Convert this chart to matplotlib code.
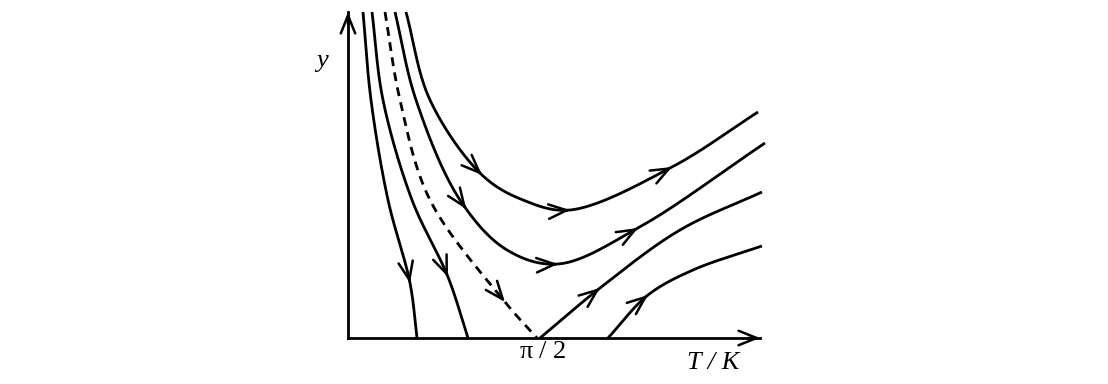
import numpy as np
import matplotlib.pyplot as plt

# trajectories (x, y), in axis units
traj_a = [(0.375, 8.15), (0.575, 5.95), (1.0, 3.45), (1.55, 1.375), (1.725, 0)]
traj_b = [(0.6, 8.15), (0.875, 5.95), (1.6, 3.45), (2.5, 1.525), (3.0, 0)]
traj_sep = [(0.925, 8.15), (1.3, 5.95), (2.05, 3.45), (3.925, 0.9), (4.725, 0)]
traj_c = [(1.175, 8.15), (1.7, 5.95), (2.8, 3.45), (3.975, 2.2), (5.25, 1.85), (7.25, 2.75),
          (10.425, 4.875)]
traj_d = [(1.45, 8.15), (2.05, 5.95), (3.35, 4.075), (4.375, 3.45), (5.55, 3.2), (8.1, 4.275),
          (10.25, 5.65)]
traj_e = [(4.8, 0), (6.3, 1.25), (8.3, 2.7), (10.35, 3.65)]
traj_f = [(6.5, 0), (7.5, 1.075), (8.625, 1.7), (10.35, 2.3)]

# arrow head positions on each trajectory
arrows_a = [(1.55, 1.375)]
arrows_b = [(2.5, 1.525)]
arrows_sep = [(3.925, 0.9)]
arrows_c = [(2.95, 3.225), (5.25, 1.85), (7.25, 2.75)]
arrows_d = [(3.35, 4.075), (5.55, 3.2), (8.1, 4.275)]
arrows_e = [(6.3, 1.25)]
arrows_f = [(7.5, 1.075)]

x_end = 10.3
y_end = 8.15
x_mark = 4.975
x_mark_label = r'$\mathregular{\pi}$ / 2'


def smooth(pts, n=60, alpha=0.5):
    # centripetal catmull-rom through the read points
    p = np.array(pts, dtype=float)
    p = np.vstack([2 * p[0] - p[1], p, 2 * p[-1] - p[-2]])
    out = []
    for i in range(1, len(p) - 2):
        p0, p1, p2, p3 = p[i - 1], p[i], p[i + 1], p[i + 2]
        t0 = 0.0
        t1 = t0 + np.linalg.norm(p1 - p0) ** alpha
        t2 = t1 + np.linalg.norm(p2 - p1) ** alpha
        t3 = t2 + np.linalg.norm(p3 - p2) ** alpha
        t = np.linspace(t1, t2, n, endpoint=False)[:, None]
        a1 = (t1 - t) / (t1 - t0) * p0 + (t - t0) / (t1 - t0) * p1
        a2 = (t2 - t) / (t2 - t1) * p1 + (t - t1) / (t2 - t1) * p2
        a3 = (t3 - t) / (t3 - t2) * p2 + (t - t2) / (t3 - t2) * p3
        b1 = (t2 - t) / (t2 - t0) * a1 + (t - t0) / (t2 - t0) * a2
        b2 = (t3 - t) / (t3 - t1) * a2 + (t - t1) / (t3 - t1) * a3
        out.append((t2 - t) / (t2 - t1) * b1 + (t - t1) / (t2 - t1) * b2)
    out.append(p[-2][None, :])
    return np.vstack(out)


def arrow(ax, tail, tip):
    ax.annotate('', xy=tip, xytext=tail,
                arrowprops=dict(arrowstyle='->,head_length=0.65,head_width=0.26',
                                mutation_scale=20, lw=1.8, color='black',
                                shrinkA=0, shrinkB=0))


def draw(ax, pts, heads, dashed=False):
    c = smooth(pts)
    line, = ax.plot(c[:, 0], c[:, 1], color='black', lw=2.0, solid_capstyle='butt')
    if dashed:
        line.set_dashes((3.2, 2.3))
    for h in heads:
        i = np.argmin(np.hypot(c[:, 0] - h[0], c[:, 1] - h[1]))
        j = max(i - 3, 0)
        arrow(ax, (c[j, 0], c[j, 1]), (c[i, 0], c[i, 1]))


fig = plt.figure(figsize=(11.08, 3.84), dpi=100)
ax = fig.add_axes([0, 0, 1, 1])
ax.set_xlim(-8.7, 19.0)
ax.set_ylim(-1.15, 8.45)
ax.axis('off')

# axes with arrow heads
ax.plot([0, x_end], [0, 0], color='black', lw=2.0)
ax.plot([0, 0], [0, y_end], color='black', lw=2.0)
arrow(ax, (x_end - 0.3, 0), (x_end, 0))
arrow(ax, (0, y_end - 0.3), (0, y_end))

draw(ax, traj_a, arrows_a)
draw(ax, traj_b, arrows_b)
draw(ax, traj_sep, arrows_sep, dashed=True)
draw(ax, traj_c, arrows_c)
draw(ax, traj_d, arrows_d)
draw(ax, traj_e, arrows_e)
draw(ax, traj_f, arrows_f)

serif = 'Liberation Serif'
ax.text(-0.65, 6.92, 'y', fontsize=19, family=serif, style='italic', ha='center', va='center')
ax.text(x_mark - 0.1, -0.36, x_mark_label, fontsize=19, family=serif, ha='center', va='center')
ax.text(9.125, -0.62, 'T / K', fontsize=19, family=serif, style='italic', ha='center', va='center')

fig.savefig('out.png', dpi=100)
